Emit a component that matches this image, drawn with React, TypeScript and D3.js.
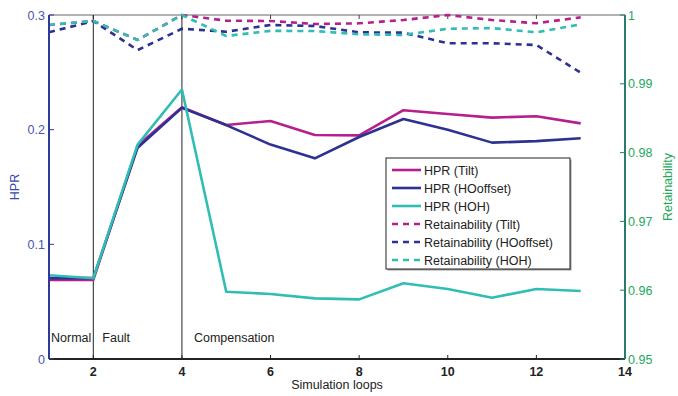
import React from "react";
import * as d3 from "d3";

const loops = [1, 2, 3, 4, 5, 6, 7, 8, 9, 10, 11, 12, 13];
const hprTilt = [0.069, 0.069, 0.186, 0.2195, 0.204, 0.2076, 0.1953, 0.195, 0.217, 0.2137, 0.2105, 0.2117, 0.2055];
const hprHOoffset = [0.0705, 0.0705, 0.1843, 0.219, 0.204, 0.187, 0.175, 0.1936, 0.2093, 0.2, 0.1887, 0.19, 0.1925];
const hprHOH = [0.073, 0.0704, 0.187, 0.235, 0.0587, 0.0567, 0.0529, 0.052, 0.066, 0.061, 0.0535, 0.061, 0.0593];
const retTilt = [0.99855, 0.99913, 0.99637, 1.0, 0.99917, 0.99913, 0.99869, 0.99879, 0.99927, 1.0, 0.99927, 0.9988, 0.99966];
const retHOoffset = [0.99748, 0.99913, 0.9949, 0.998, 0.99757, 0.99855, 0.9984, 0.99748, 0.99743, 0.99589, 0.99589, 0.99564, 0.99161];
const retHOH = [0.99855, 0.99913, 0.99637, 1.0, 0.99695, 0.9977, 0.99767, 0.9972, 0.9971, 0.998, 0.9981, 0.99748, 0.99864];

const xTicks = [2, 4, 6, 8, 10, 12, 14];
const leftTicks = [0, 0.1, 0.2, 0.3];
const leftTickLabels = ["0", "0.1", "0.2", "0.3"];
const rightTicks = [0.95, 0.96, 0.97, 0.98, 0.99, 1];
const rightTickLabels = ["0.95", "0.96", "0.97", "0.98", "0.99", "1"];
const phaseLines = [2, 4];
const phaseLabels = [
  { x: 1, text: "Normal" },
  { x: 2, text: "Fault" },
  { x: 4, text: "Compensation" },
];

const C_TILT = "#b51f8e";
const C_HOO = "#2c3192";
const C_HOH = "#30bdb4";

const W = 678, H = 396;
const L = 49, R = 625, T = 15, B = 359;

export default function App() {
  const x = d3.scaleLinear().domain([1, 14]).range([L, R]);
  const yL = d3.scaleLinear().domain([0, 0.3]).range([B, T]);
  const yR = d3.scaleLinear().domain([0.95, 1]).range([B, T]);
  const lineL = (vals: number[]) =>
    d3.line<number>().x((_, i) => x(loops[i])).y((v) => yL(v))(vals) || "";
  const lineR = (vals: number[]) =>
    d3.line<number>().x((_, i) => x(loops[i])).y((v) => yR(v))(vals) || "";

  const series = [
    { label: "HPR (Tilt)", d: lineL(hprTilt), c: C_TILT, dash: false },
    { label: "HPR (HOoffset)", d: lineL(hprHOoffset), c: C_HOO, dash: false },
    { label: "HPR (HOH)", d: lineL(hprHOH), c: C_HOH, dash: false },
    { label: "Retainability (Tilt)", d: lineR(retTilt), c: C_TILT, dash: true },
    { label: "Retainability (HOoffset)", d: lineR(retHOoffset), c: C_HOO, dash: true },
    { label: "Retainability (HOH)", d: lineR(retHOH), c: C_HOH, dash: true },
  ];

  const font = "Liberation Sans, Arial, Helvetica, sans-serif";
  const legX = 386, legY = 158, legW = 184, legH = 111, rowH = 18;

  return (
    <svg width={W} height={H} style={{ position: "absolute", left: 0, top: 0 }} fontFamily={font}>
      <rect width={W} height={H} fill="#fff" />
      {/* top border */}
      <line x1={L} x2={R} y1={T} y2={T} stroke="#666" strokeWidth={1.2} />
      {xTicks.map((t) => (
        <line key={"tt" + t} x1={x(t)} x2={x(t)} y1={T} y2={T + 4} stroke="#444" strokeWidth={1} />
      ))}
      {/* phase lines */}
      {phaseLines.map((p) => (
        <line key={"p" + p} x1={x(p)} x2={x(p)} y1={T} y2={B} stroke="#222" strokeWidth={1} />
      ))}
      {phaseLabels.map((p) => (
        <text key={p.text} x={x(p.x) + (p.x === 1 ? 2 : p.x === 2 ? 9 : 12)} y={342} fontSize={12.5} fill="#222">
          {p.text}
        </text>
      ))}
      {/* series */}
      {series.map((s) => (
        <path
          key={s.label}
          d={s.d}
          fill="none"
          stroke={s.c}
          strokeWidth={s.dash ? 2.6 : 2.6}
          strokeDasharray={s.dash ? "6 5" : undefined}
          strokeLinejoin="round"
        />
      ))}
      {/* bottom axis */}
      <line x1={L} x2={R} y1={B} y2={B} stroke="#222" strokeWidth={2} />
      {xTicks.map((t) => (
        <g key={"xt" + t}>
          <line x1={x(t)} x2={x(t)} y1={B} y2={B - 4} stroke="#222" strokeWidth={1} />
          <text x={x(t)} y={376} fontSize={12.5} fontWeight="bold" textAnchor="middle" fill="#222">
            {t}
          </text>
        </g>
      ))}
      <text x={(L + R) / 2} y={389} fontSize={12.5} textAnchor="middle" fill="#222">
        Simulation loops
      </text>
      {/* left axis */}
      <line x1={L} x2={L} y1={T} y2={B} stroke="#2e3a9a" strokeWidth={2} />
      {leftTicks.map((t, i) => (
        <g key={"lt" + t}>
          <line x1={L} x2={L + 5} y1={yL(t)} y2={yL(t)} stroke="#2e3a9a" strokeWidth={1} />
          <text x={L - 4} y={yL(t) + 4.5} fontSize={12.5} textAnchor="end" fill="#4656b4">
            {leftTickLabels[i]}
          </text>
        </g>
      ))}
      <text transform={`translate(19,${(T + B) / 2}) rotate(-90)`} fontSize={12.5} textAnchor="middle" fill="#3848ac">
        HPR
      </text>
      {/* right axis */}
      <line x1={R} x2={R} y1={T} y2={B} stroke="#2a7a70" strokeWidth={2} />
      {rightTicks.map((t, i) => (
        <g key={"rt" + t}>
          <line x1={R} x2={R - 5} y1={yR(t)} y2={yR(t)} stroke="#2a7a70" strokeWidth={1} />
          <text x={R + 3} y={yR(t) + 4.5} fontSize={12.5} textAnchor="start" fill="#24a85c">
            {rightTickLabels[i]}
          </text>
        </g>
      ))}
      <text transform={`translate(672,${(T + B) / 2}) rotate(-90)`} fontSize={12.5} textAnchor="middle" fill="#24a85c">
        Retainability
      </text>
      {/* legend */}
      <rect x={legX + 1.5} y={legY + 1.5} width={legW} height={legH} fill="#999" />
      <rect x={legX} y={legY} width={legW} height={legH} fill="#fff" stroke="#222" strokeWidth={1} />
      {series.map((s, i) => {
        const cy = legY + 12 + i * rowH;
        return (
          <g key={"lg" + s.label}>
            <line
              x1={legX + 6}
              x2={legX + 35}
              y1={cy}
              y2={cy}
              stroke={s.c}
              strokeWidth={2.6}
              strokeDasharray={s.dash ? "6 5" : undefined}
            />
            <text x={legX + 38} y={cy + 4.5} fontSize={12.5} fill="#222">
              {s.label}
            </text>
          </g>
        );
      })}
    </svg>
  );
}
